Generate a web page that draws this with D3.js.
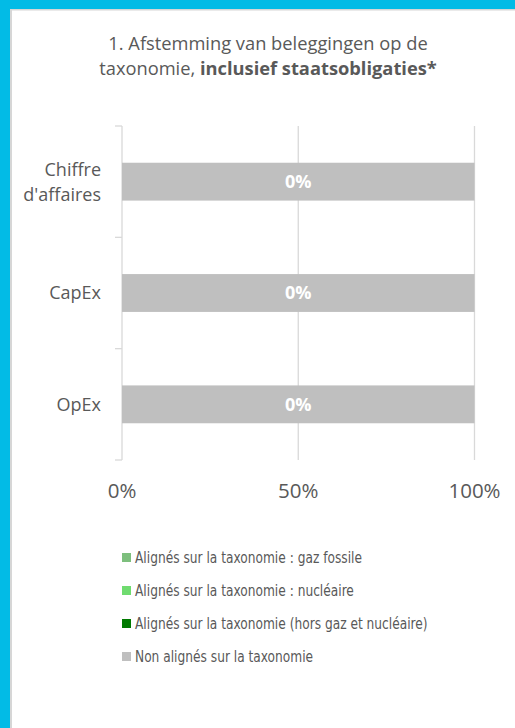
<!DOCTYPE html>
<html>
<head>
<meta charset="utf-8">
<script src="https://cdn.jsdelivr.net/npm/d3@7"></script>
<style>
  html, body { margin: 0; padding: 0; background: #fff; }
  svg { display: block; }
</style>
</head>
<body>
<svg id="chart" width="515" height="728"></svg>
<script>
// ---- data --------------------------------
var categories = ["Chiffre\nd'affaires", "CapEx", "OpEx"];
var seriesNames = [
  "Alignés sur la taxonomie : gaz fossile",
  "Alignés sur la taxonomie : nucléaire",
  "Alignés sur la taxonomie (hors gaz et nucléaire)",
  "Non alignés sur la taxonomie"
];
var gazFossile = [0, 0, 0];
var nucleaire = [0, 0, 0];
var alignesAutres = [0, 0, 0];
var nonAlignes = [100, 100, 100];
var xTicks = [0, 50, 100];
var seriesColors = ["#7dbf7d", "#6fdb6f", "#007a00", "#bfbfbf"];

var values = [gazFossile, nucleaire, alignesAutres, nonAlignes];
var rows = categories.map(function (c, i) {
  var r = { cat: c };
  seriesNames.forEach(function (s, k) { r[s] = values[k][i]; });
  return r;
});

// ---- frame --------------------------------
var svg = d3.select("#chart");
svg.append("rect").attr("x", 0).attr("y", 0).attr("width", 515).attr("height", 9).attr("fill", "#02bbe6");
svg.append("rect").attr("x", 0).attr("y", 0).attr("width", 10).attr("height", 728).attr("fill", "#02bbe6");
svg.append("rect").attr("x", 10).attr("y", 9).attr("width", 505).attr("height", 1.5).attr("fill", "#d6d6d6");
svg.append("rect").attr("x", 10).attr("y", 9).attr("width", 2).attr("height", 719).attr("fill", "#d6d6d6");

// ---- title --------------------------------
var title = svg.append("text")
  .attr("text-anchor", "middle")
  .style("font-family", "'Open Sans', sans-serif")
  .style("font-size", "18.3px")
  .attr("fill", "#595959");
title.append("tspan").attr("x", 268).attr("y", 50).text("1. Afstemming van beleggingen op de");
var l2 = title.append("tspan").attr("x", 268).attr("y", 75);
l2.append("tspan").text("taxonomie, ");
l2.append("tspan").style("font-weight", "bold").text("inclusief staatsobligaties*");

// ---- scales --------------------------------
var x = d3.scaleLinear().domain([0, 100]).range([122, 474.5]);
var y = d3.scaleBand().domain(categories).range([126, 460]).paddingInner(0.66).paddingOuter(0.33);

var g = svg.append("g").style("font-family", "'Open Sans', sans-serif");

// gridlines
g.selectAll(".grid").data(xTicks.filter(function (d) { return d > 0; }))
  .enter().append("line")
  .attr("x1", function (d) { return x(d); }).attr("x2", function (d) { return x(d); })
  .attr("y1", 126).attr("y2", 460)
  .attr("stroke", "#d9d9d9").attr("stroke-width", 1.3);

// y axis line + ticks at category boundaries
g.append("line").attr("x1", x(0)).attr("x2", x(0)).attr("y1", 126).attr("y2", 460)
  .attr("stroke", "#d9d9d9").attr("stroke-width", 1.3);
var bounds = d3.range(categories.length + 1).map(function (i) { return y.range()[0] + i * y.step(); });
g.selectAll(".ytick").data(bounds).enter().append("line")
  .attr("x1", x(0) - 7).attr("x2", x(0))
  .attr("y1", function (d) { return d; }).attr("y2", function (d) { return d; })
  .attr("stroke", "#d9d9d9").attr("stroke-width", 1.3);

// bars
var stack = d3.stack().keys(seriesNames)(rows);
g.selectAll(".series").data(stack).enter().append("g")
  .attr("fill", function (d, i) { return seriesColors[i]; })
  .selectAll("rect").data(function (d) { return d; }).enter().append("rect")
  .attr("x", function (d) { return x(d[0]); })
  .attr("width", function (d) { return x(d[1]) - x(d[0]); })
  .attr("y", function (d) { return y(d.data.cat); })
  .attr("height", y.bandwidth());

// bar labels: aligned share
g.selectAll(".lbl").data(rows).enter().append("text")
  .attr("x", function (d) { return x(d3.sum(seriesNames, function (s) { return d[s]; }) / 2); })
  .attr("y", function (d) { return y(d.cat) + y.bandwidth() / 2; })
  .attr("dy", "0.36em")
  .attr("text-anchor", "middle")
  .attr("fill", "#ffffff")
  .style("font-weight", "bold")
  .style("font-size", "18px")
  .text(function (d) {
    var a = d[seriesNames[0]] + d[seriesNames[1]] + d[seriesNames[2]];
    return a + "%";
  });

// category labels
g.selectAll(".cat").data(categories).enter().append("text")
  .attr("text-anchor", "end")
  .attr("fill", "#595959")
  .style("font-size", "18px")
  .each(function (d) {
    var lines = d.split("\n");
    var cy = y(d) + y.bandwidth() / 2;
    var t = d3.select(this);
    lines.forEach(function (line, i) {
      t.append("tspan").attr("x", 101)
        .attr("y", cy + (i - (lines.length - 1) / 2) * 25)
        .attr("dy", "0.36em")
        .text(line);
    });
  });

// x tick labels
g.selectAll(".xl").data(xTicks).enter().append("text")
  .attr("x", function (d) { return x(d); })
  .attr("y", 498)
  .attr("text-anchor", "middle")
  .attr("fill", "#595959")
  .style("font-size", "20.5px")
  .text(function (d) { return d + "%"; });

// legend (narrow type, squeezed horizontally)
var leg = svg.append("g").selectAll(".leg").data(seriesNames).enter().append("g")
  .attr("transform", function (d, i) { return "translate(122," + (557.5 + i * 33) + ")"; });
leg.append("rect").attr("x", 0).attr("y", -4.5).attr("width", 9).attr("height", 9)
  .attr("fill", function (d, i) { return seriesColors[i]; });
leg.append("text")
  .attr("transform", "translate(13,0) scale(0.877,1)")
  .attr("dy", "0.36em")
  .attr("fill", "#595959")
  .style("font-family", "'Liberation Sans Narrow', 'DejaVu Sans Condensed', sans-serif")
  .style("font-size", "15.5px")
  .text(function (d) { return d; });
</script>
</body>
</html>
